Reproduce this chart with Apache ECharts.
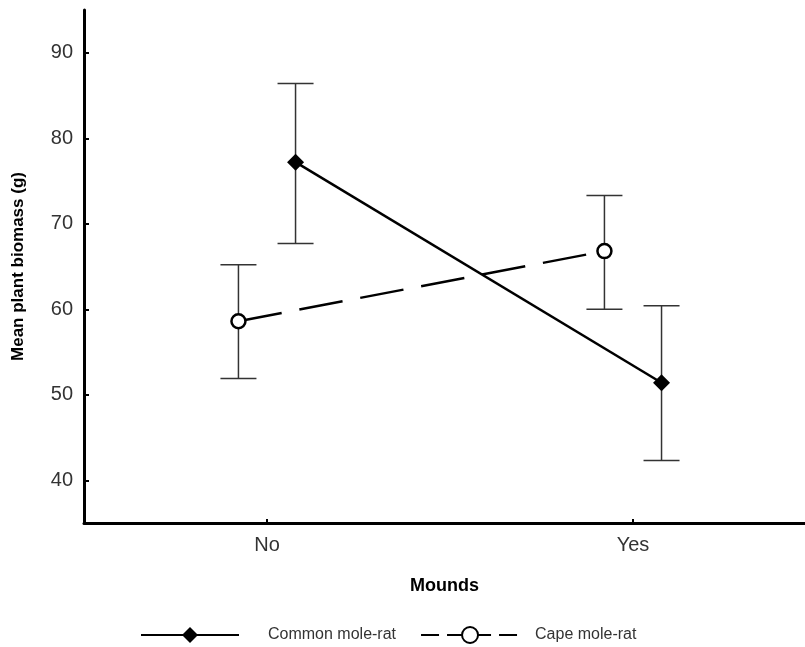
<!DOCTYPE html>
<html><head><meta charset="utf-8">
<script src="https://cdn.jsdelivr.net/npm/echarts@6/dist/echarts.min.js"></script>
<style>html,body{margin:0;padding:0;background:#fff}#c{width:805px;height:647px}</style>
</head><body><div id="c"></div>
<script>
const categories = ['No', 'Yes'];
const commonMean = [77.2, 51.4];
const commonLow = [67.7, 42.3];
const commonHigh = [86.4, 60.4];
const capeMean = [58.6, 66.8];
const capeLow = [51.9, 60.0];
const capeHigh = [65.2, 73.3];
const yTicks = [40, 50, 60, 70, 80, 90];
const offset = 0.078;

const chart = echarts.init(document.getElementById('c'), null, {renderer: 'canvas'});
const fontFam = '"Liberation Sans", Arial, sans-serif';

function pts(means, off) { return means.map((v, i) => [i + off, v]); }
function errs(lows, highs, off) { return lows.map((l, i) => [i + off, l, highs[i]]); }

function errRender(params, api) {
  const x = api.value(0);
  const lo = api.coord([x, api.value(1)]);
  const hi = api.coord([x, api.value(2)]);
  const hw = 18;
  const st = {stroke: '#333', lineWidth: 1.5};
  return {type: 'group', children: [
    {type: 'line', shape: {x1: lo[0], y1: lo[1], x2: hi[0], y2: hi[1]}, style: st},
    {type: 'line', shape: {x1: lo[0] - hw, y1: lo[1], x2: lo[0] + hw, y2: lo[1]}, style: st},
    {type: 'line', shape: {x1: hi[0] - hw, y1: hi[1], x2: hi[0] + hw, y2: hi[1]}, style: st}
  ]};
}

chart.setOption({
  animation: false,
  backgroundColor: '#fff',
  grid: {left: 84, right: 0, top: 10, bottom: 124, containLabel: false},
  xAxis: {
    type: 'value', min: -0.5, max: 1.47,
    name: 'Mounds', nameLocation: 'middle', nameGap: 54,
    nameTextStyle: {fontFamily: fontFam, fontSize: 18, fontWeight: 'bold', color: '#000'},
    axisLine: {show: true, onZero: false, lineStyle: {color: '#000', width: 3}},
    axisTick: {show: true, inside: true, length: 4, customValues: [0, 1], lineStyle: {color: '#000', width: 2}},
    axisLabel: {customValues: [0, 1], margin: 12, fontFamily: fontFam, fontSize: 20, color: '#333',
      formatter: v => categories[Math.round(v)] || ''},
    splitLine: {show: false}
  },
  yAxis: {
    type: 'value', min: 35, max: 95,
    name: 'Mean plant biomass (g)', nameLocation: 'middle', nameGap: 57, nameRotate: 90,
    nameTextStyle: {fontFamily: fontFam, fontSize: 17, fontWeight: 'bold', color: '#000'},
    axisLine: {show: true, onZero: false, lineStyle: {color: '#000', width: 3}},
    axisTick: {show: true, inside: true, length: 5, customValues: yTicks, lineStyle: {color: '#000', width: 2}},
    axisLabel: {customValues: yTicks, margin: 11, fontFamily: fontFam, fontSize: 20, color: '#333'},
    splitLine: {show: false}
  },
  legend: {
    top: 621, left: 135, itemGap: 24, itemWidth: 98, itemHeight: 20,
    textStyle: {fontFamily: fontFam, fontSize: 16, color: '#333'},
    data: [
      {name: 'Common mole-rat', textStyle: {padding: [0, 0, 0, 24]}},
      {name: 'Cape mole-rat', lineStyle: {type: [18, 8]}, textStyle: {padding: [0, 0, 0, 11]}}
    ]
  },
  series: [
    {type: 'custom', name: 'errCommon', renderItem: errRender, data: errs(commonLow, commonHigh, offset), z: 1, silent: true},
    {type: 'custom', name: 'errCape', renderItem: errRender, data: errs(capeLow, capeHigh, -offset), z: 1, silent: true},
    {type: 'line', name: 'Common mole-rat', data: pts(commonMean, offset),
      symbol: 'diamond', symbolSize: 17, itemStyle: {color: '#000'},
      lineStyle: {color: '#000', width: 2.5}, z: 3},
    {type: 'line', name: 'Cape mole-rat', data: pts(capeMean, -offset),
      symbol: 'circle', symbolSize: 14, itemStyle: {color: '#fff', borderColor: '#000', borderWidth: 2.5},
      lineStyle: {color: '#000', width: 2.5, type: [44, 18]}, z: 3}
  ]
});
</script></body></html>
